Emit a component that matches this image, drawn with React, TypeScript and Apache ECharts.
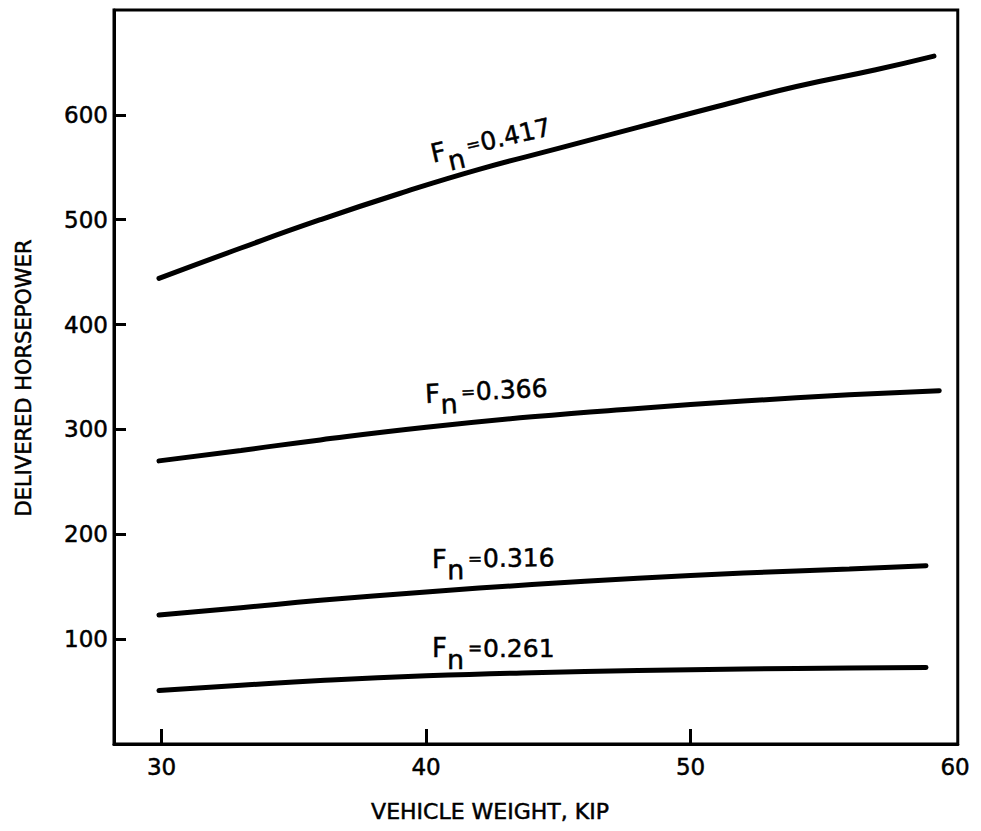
import React, { useEffect, useRef } from "react";
import * as echarts from "echarts";

// Froude number curves: delivered horsepower vs vehicle weight (kip)
const fn417: [number, number][] = [
  [29.9, 444], [33, 473], [36, 500], [39, 525], [42, 548], [45, 568],
  [48, 588], [51, 608], [54, 627], [57, 643], [59.2, 656],
];
const fn366: [number, number][] = [
  [29.9, 270], [33, 280], [36, 290], [40, 302], [44, 312],
  [48, 320], [52, 327], [56, 333], [59.4, 337],
];
const fn316: [number, number][] = [
  [29.9, 123], [33, 130], [36, 137], [40, 145], [44, 152],
  [48, 158], [52, 163], [56, 167], [58.9, 170],
];
const fn261: [number, number][] = [
  [29.9, 51], [33, 56], [36, 60.5], [40, 65], [44, 68],
  [48, 70], [52, 71.5], [56, 72.5], [58.9, 73],
];

const xTicks = [30, 40, 50, 60];
const yTicks = [100, 200, 300, 400, 500, 600];
const curveNames = ["0.417", "0.366", "0.316", "0.261"];

const FONT = "DejaVu Sans";
const THICK = 0.5;

function txt(text: string, x: number, y: number, size: number, align = "left") {
  return {
    type: "text",
    x,
    y,
    style: {
      text,
      fill: "#000",
      fontSize: size,
      fontFamily: FONT,
      align,
      verticalAlign: "middle",
      textAlign: align,
      textVerticalAlign: "middle",
      stroke: "#000",
      lineWidth: THICK,
    },
  };
}

function fnLabel(value: string, x: number, y: number, rotation: number) {
  return {
    type: "group",
    x,
    y,
    rotation,
    children: [
      txt("F", 0, 0, 26),
      txt("n", 15, 11, 27),
      txt("=", 36, 0, 17),
      txt(value, 51, 0, 25),
    ],
  };
}

export default function App() {
  const ref = useRef<HTMLDivElement>(null);
  useEffect(() => {
    if (!ref.current) return;
    const chart = echarts.init(ref.current, undefined, { renderer: "svg" });
    const lineSeries = (name: string, data: [number, number][]) => ({
      name,
      type: "line",
      data,
      smooth: 0.5,
      showSymbol: false,
      symbol: "none",
      lineStyle: { color: "#000", width: 5, cap: "round" },
      silent: true,
    });
    const labelStyle = {
      color: "#000",
      fontSize: 23,
      fontFamily: FONT,
      textBorderColor: "#000",
      textBorderWidth: THICK,
    };
    chart.setOption({
      animation: false,
      backgroundColor: "#fff",
      grid: {
        left: 106,
        top: 2,
        right: 9,
        bottom: 79,
        show: true,
        borderColor: "#000",
        borderWidth: 3,
      },
      xAxis: {
        type: "value",
        min: 28.2,
        max: 60.1,
        axisLine: { show: true, lineStyle: { color: "#000", width: 3 } },
        axisTick: {
          show: true,
          inside: true,
          length: 15,
          customValues: xTicks.slice(0, 3),
          lineStyle: { color: "#000", width: 3 },
        },
        axisLabel: { ...labelStyle, customValues: xTicks, margin: 11 },
        splitLine: { show: false },
      },
      yAxis: {
        type: "value",
        min: 0,
        max: 700,
        axisLine: { show: true, lineStyle: { color: "#000", width: 3 } },
        axisTick: {
          show: true,
          inside: true,
          length: 12,
          customValues: yTicks,
          lineStyle: { color: "#000", width: 3 },
        },
        axisLabel: { ...labelStyle, customValues: yTicks, margin: 6 },
        splitLine: { show: false },
      },
      series: [
        lineSeries(curveNames[0], fn417),
        lineSeries(curveNames[1], fn366),
        lineSeries(curveNames[2], fn316),
        lineSeries(curveNames[3], fn261),
      ],
      graphic: [
        txt("VEHICLE WEIGHT, KIP", 482, 803, 22, "center"),
        {
          ...txt("DELIVERED HORSEPOWER", 16, 370, 21, "center"),
          rotation: Math.PI / 2,
        },
        fnLabel(curveNames[0], 423, 146, 0.225),
        fnLabel(curveNames[1], 417, 386, 0.05),
        fnLabel(curveNames[2], 424, 551, 0.01),
        fnLabel(curveNames[3], 424, 640, 0.0),
      ],
    });
    return () => chart.dispose();
  }, []);
  return <div ref={ref} style={{ width: 965, height: 815 }} />;
}
